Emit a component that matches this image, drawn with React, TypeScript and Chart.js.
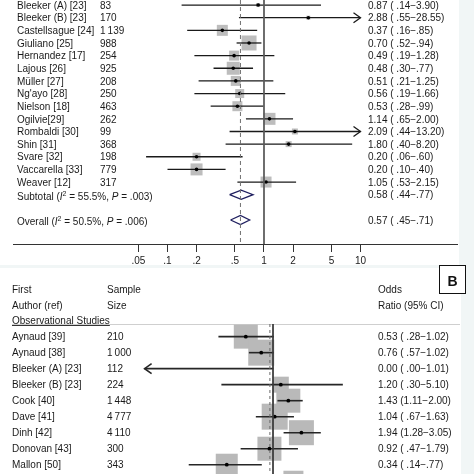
import React, { useEffect, useRef } from "react";
import { Chart, registerables } from "chart.js";
Chart.register(...registerables);

const FAMILY = '"Liberation Sans", Arial, Helvetica, sans-serif';
const F = `10px ${FAMILY}`;
const FI = `italic 10px ${FAMILY}`;
const FS = `7px ${FAMILY}`;
const TXT = "#1a1a1a";

// ---------------- Panel A ----------------
const aStudies = [
  "Bleeker (A) [23]", "Bleeker (B) [23]", "Castellsague [24]", "Giuliano [25]",
  "Hernandez [17]", "Lajous [26]", "Müller [27]", "Ng'ayo [28]", "Nielson [18]",
  "Ogilvie[29]", "Rombaldi [30]", "Shin [31]", "Svare [32]", "Vaccarella [33]", "Weaver [12]",
];
const aSizes = ["83", "170", "1\u2009139", "988", "254", "925", "208", "250", "463", "262", "99", "368", "198", "779", "317"];
const aOR = [0.87, 2.88, 0.37, 0.70, 0.49, 0.48, 0.51, 0.56, 0.53, 1.14, 2.09, 1.80, 0.20, 0.20, 1.05];
const aLow = [0.14, 0.55, 0.16, 0.52, 0.19, 0.30, 0.21, 0.19, 0.28, 0.65, 0.44, 0.40, 0.06, 0.10, 0.53];
const aHigh = [3.90, 28.55, 0.85, 0.94, 1.28, 0.77, 1.25, 1.66, 0.99, 2.00, 13.20, 8.20, 0.60, 0.40, 2.15];
const aWeight = [1.6, 1.6, 12.1, 22.5, 10, 16.9, 10, 8.1, 10, 14.4, 3.6, 3.6, 6.4, 14.4, 12.1];
const aPooledLabel = ["Subtotal", "Overall"];
const aPooledI2 = ["55.5%", "50.5%"];
const aPooledP = [".003", ".006"];
const aPooledOR = [0.58, 0.57];
const aPooledLow = [0.44, 0.45];
const aPooledHigh = [0.77, 0.71];
const aPooledRow = [15, 17];
const aTicks = [0.05, 0.1, 0.2, 0.5, 1, 2, 5, 10];
const aTickLabels = [".05", ".1", ".2", ".5", "1", "2", "5", "10"];
const aClipHigh = 10;

// ---------------- Panel B ----------------
const bHead1 = ["First", "Sample", "Odds"];
const bHead2 = ["Author (ref)", "Size", "Ratio (95% CI)"];
const bGroup = "Observational Studies";
const bStudies = [
  "Aynaud [39]", "Aynaud [38]", "Bleeker (A) [23]", "Bleeker (B) [23]", "Cook [40]",
  "Dave [41]", "Dinh [42]", "Donovan [43]", "Mallon [50]",
];
const bSizes = ["210", "1\u2009000", "112", "224", "1\u2009448", "4\u2009777", "4\u2009110", "300", "343"];
const bOR = [0.53, 0.76, 0.0, 1.20, 1.43, 1.04, 1.94, 0.92, 0.34];
const bLow = [0.28, 0.57, 0.0, 0.30, 1.11, 0.67, 1.28, 0.47, 0.14];
const bHigh = [1.02, 1.02, 1.01, 5.10, 2.00, 1.63, 3.05, 1.79, 0.77];
const bWeight = [57.6, 67.6, 0, 25.6, 57.6, 67.6, 62.5, 57.6, 48.4];
// next study row, cut off by the bottom edge (only the top of its square shows)
const bCutOR = [1.61];
const bCutWeight = [40];
const bOverallOR = 0.93;
const bClipLow = 0.05;
const bClipHigh = 10;

const side = (w: number) => Math.sqrt(w * 10);
const rectRadius = (w: number) => side(w) / Math.SQRT2;

function fmtCI(or: number, lo: number, hi: number) {
  const l = lo < 1 ? " " + lo.toFixed(2).slice(1) : lo.toFixed(2);
  const h = hi < 1 ? hi.toFixed(2).slice(1) : hi.toFixed(2);
  return `${or.toFixed(2)} (${l}\u2212${h})`;
}

function drawStat(ctx: CanvasRenderingContext2D, label: string, i2: string, p: string, x: number, y: number) {
  const parts: [string, string, number][] = [
    [`${label} (`, F, 0], ["I", FI, 0], ["2", FS, -4], [` = ${i2}, `, F, 0], ["P", FI, 0], [` = ${p})`, F, 0],
  ];
  let cx = x;
  for (const [t, f, dy] of parts) {
    ctx.font = f;
    ctx.fillText(t, cx, y + dy);
    cx += ctx.measureText(t).width;
  }
}

function chevron(ctx: CanvasRenderingContext2D, x: number, y: number, dir: number) {
  ctx.beginPath();
  ctx.moveTo(x - dir * 7, y - 5);
  ctx.lineTo(x, y);
  ctx.lineTo(x - dir * 7, y + 5);
  ctx.stroke();
}

const line = (data: any[], color: string, width: number, extra: any = {}) => ({
  type: "scatter",
  showLine: true,
  data,
  borderColor: color,
  borderWidth: width,
  pointRadius: 0,
  pointHoverRadius: 0,
  ...extra,
});

function makeChartA(canvas: HTMLCanvasElement) {
  const yMin = -0.4, yMax = 18.9;
  const datasets: any[] = [];
  datasets.push(line([{ x: 1, y: yMin }, { x: 1, y: yMax }], "#5a5a5a", 1, { order: 0 }));
  datasets.push(line([{ x: aPooledOR[1], y: yMin }, { x: aPooledOR[1], y: yMax }], "#707070", 1, { order: 0, borderDash: [4, 3] }));
  datasets.push({
    type: "scatter",
    data: aOR.map((v, i) => ({ x: v, y: i })),
    pointStyle: "rect",
    pointRadius: aWeight.map(rectRadius),
    backgroundColor: "#bdbdbd",
    borderWidth: 0,
    order: 3,
  });
  aStudies.forEach((_, i) => {
    datasets.push(line([{ x: aLow[i], y: i }, { x: Math.min(aHigh[i], aClipHigh), y: i }], "#1a1a1a", 1.3, { order: 1 }));
  });
  aPooledOR.forEach((v, k) => {
    const r = aPooledRow[k];
    datasets.push(
      line(
        [
          { x: aPooledLow[k], y: r },
          { x: v, y: r - 0.36 },
          { x: aPooledHigh[k], y: r },
          { x: v, y: r + 0.36 },
          { x: aPooledLow[k], y: r },
        ],
        "#1f1f5f",
        1.3,
        { order: 1 }
      )
    );
  });
  datasets.push({
    type: "scatter",
    data: aOR.map((v, i) => ({ x: v, y: i })),
    pointStyle: "circle",
    pointRadius: 1.8,
    backgroundColor: "#000",
    borderWidth: 0,
    order: 0,
  });

  const textPlugin = {
    id: "textA",
    afterDatasetsDraw(chart: any) {
      const ctx: CanvasRenderingContext2D = chart.ctx;
      const ys = chart.scales.y, xs = chart.scales.x;
      ctx.save();
      ctx.strokeStyle = "#1a1a1a";
      ctx.lineWidth = 1.3;
      aStudies.forEach((_, i) => {
        if (aHigh[i] > aClipHigh) chevron(ctx, xs.getPixelForValue(aClipHigh), ys.getPixelForValue(i), 1);
      });
      ctx.fillStyle = TXT;
      ctx.textBaseline = "alphabetic";
      ctx.font = F;
      aStudies.forEach((name, i) => {
        const py = ys.getPixelForValue(i) + 3.7;
        ctx.font = F;
        ctx.fillText(name, 17, py);
        ctx.fillText(aSizes[i], 100, py);
        ctx.fillText(fmtCI(aOR[i], aLow[i], aHigh[i]), 368, py);
      });
      aPooledLabel.forEach((lab, k) => {
        const py = ys.getPixelForValue(aPooledRow[k]) + 3.7;
        drawStat(ctx, lab, aPooledI2[k], aPooledP[k], 17, py + 1.5);
        ctx.font = F;
        ctx.fillText(fmtCI(aPooledOR[k], aPooledLow[k], aPooledHigh[k]), 368, py);
      });
      ctx.restore();
    },
  };

  return new Chart(canvas, {
    type: "scatter",
    data: { datasets },
    plugins: [textPlugin],
    options: {
      animation: false,
      responsive: false,
      devicePixelRatio: 1,
      events: [],
      layout: { autoPadding: false, padding: { left: 13, right: 17, top: 0, bottom: 200 } },
      plugins: { legend: { display: false }, tooltip: { enabled: false } },
      scales: {
        x: {
          type: "logarithmic",
          min: Math.pow(10, -2.601),
          max: 100,
          afterBuildTicks: (s: any) => {
            s.ticks = aTicks.map((v) => ({ value: v }));
          },
          afterFit: (s: any) => {
            s.height = 30;
          },
          grid: { drawOnChartArea: false, drawTicks: true, tickLength: 8, color: "#333", lineWidth: 1 },
          border: { display: true, color: "#333", width: 1 },
          ticks: {
            autoSkip: false,
            maxRotation: 0,
            padding: 3,
            color: TXT,
            font: { family: FAMILY, size: 10 },
            callback: (_v: any, idx: number) => aTickLabels[idx],
          },
        },
        y: { type: "linear", display: false, reverse: true, min: yMin, max: yMax },
      },
    } as any,
  } as any);
}

function makeChartB(canvas: HTMLCanvasElement) {
  const yMin = -0.79, yMax = 8.58;
  const datasets: any[] = [];
  datasets.push(line([{ x: 1, y: yMin }, { x: 1, y: yMax + 1 }], "#3a3a3a", 1, { order: 0 }));
  datasets.push(line([{ x: bOverallOR, y: yMin }, { x: bOverallOR, y: yMax + 1 }], "#6a6a6a", 1, { order: 0, borderDash: [3, 3] }));
  const sq: any[] = [];
  const sqR: number[] = [];
  bOR.forEach((v, i) => {
    if (v > 0 && bWeight[i] > 0) {
      sq.push({ x: v, y: i });
      sqR.push(rectRadius(bWeight[i]));
    }
  });
  bCutOR.forEach((v, k) => {
    sq.push({ x: v, y: bStudies.length + k });
    sqR.push(rectRadius(bCutWeight[k]));
  });
  datasets.push({
    type: "scatter",
    data: sq,
    pointStyle: "rect",
    pointRadius: sqR,
    backgroundColor: "#b9b9b9",
    borderWidth: 0,
    order: 3,
    clip: false,
  });
  bStudies.forEach((_, i) => {
    datasets.push(
      line([{ x: Math.max(bLow[i], bClipLow), y: i }, { x: Math.min(bHigh[i], bClipHigh), y: i }], "#262626", 1.6, { order: 1 })
    );
  });
  datasets.push({
    type: "scatter",
    data: bOR.map((v, i) => ({ x: v, y: i })).filter((p) => p.x > 0),
    pointStyle: "circle",
    pointRadius: 1.9,
    backgroundColor: "#000",
    borderWidth: 0,
    order: 0,
  });

  const textPlugin = {
    id: "textB",
    beforeDatasetsDraw(chart: any) {
      const ctx: CanvasRenderingContext2D = chart.ctx;
      const a = chart.chartArea;
      ctx.save();
      ctx.strokeStyle = "#cfcfcf";
      ctx.lineWidth = 1;
      ctx.beginPath();
      ctx.moveTo(a.left, a.top + 0.5);
      ctx.lineTo(a.right, a.top + 0.5);
      ctx.stroke();
      ctx.restore();
    },
    afterDatasetsDraw(chart: any) {
      const ctx: CanvasRenderingContext2D = chart.ctx;
      const ys = chart.scales.y, xs = chart.scales.x;
      ctx.save();
      ctx.strokeStyle = "#262626";
      ctx.lineWidth = 1.6;
      bStudies.forEach((_, i) => {
        if (bLow[i] < bClipLow) chevron(ctx, xs.getPixelForValue(bClipLow), ys.getPixelForValue(i), -1);
        if (bHigh[i] > bClipHigh) chevron(ctx, xs.getPixelForValue(bClipHigh), ys.getPixelForValue(i), 1);
      });
      ctx.fillStyle = TXT;
      ctx.font = F;
      ctx.textBaseline = "alphabetic";
      const cols = [12, 107, 378];
      bHead1.forEach((t, c) => ctx.fillText(t, cols[c], ys.getPixelForValue(-2.98) + 3.7));
      bHead2.forEach((t, c) => ctx.fillText(t, cols[c], ys.getPixelForValue(-1.98) + 3.7));
      const gy = ys.getPixelForValue(-1.05) + 3.7;
      ctx.fillText(bGroup, 12, gy);
      const gw = ctx.measureText(bGroup).width;
      ctx.strokeStyle = "#333";
      ctx.lineWidth = 1;
      ctx.beginPath();
      ctx.moveTo(12, Math.round(gy) + 1.5);
      ctx.lineTo(12 + gw, Math.round(gy) + 1.5);
      ctx.stroke();
      bStudies.forEach((name, i) => {
        const py = ys.getPixelForValue(i) + 3.7;
        ctx.fillText(name, cols[0], py);
        ctx.fillText(bSizes[i], cols[1], py);
        ctx.fillText(fmtCI(bOR[i], bLow[i], bHigh[i]), cols[2], py);
      });
      // panel letter
      ctx.fillStyle = "#fff";
      ctx.fillRect(439.5, 265.5, 26, 28);
      ctx.strokeStyle = "#111";
      ctx.lineWidth = 1;
      ctx.strokeRect(439.5, 265.5, 26, 28);
      ctx.fillStyle = "#111";
      ctx.font = `bold 14px ${FAMILY}`;
      ctx.textAlign = "center";
      ctx.fillText("B", 452.5, 286);
      ctx.restore();
    },
  };

  return new Chart(canvas, {
    type: "scatter",
    data: { datasets },
    plugins: [textPlugin],
    options: {
      animation: false,
      responsive: false,
      devicePixelRatio: 1,
      events: [],
      layout: { autoPadding: false, padding: { left: 12, right: 14, top: 324, bottom: 0 } },
      plugins: { legend: { display: false }, tooltip: { enabled: false } },
      scales: {
        x: { type: "logarithmic", display: false, min: Math.pow(10, -2.6444), max: Math.pow(10, 1.8946) },
        y: { type: "linear", display: false, reverse: true, min: yMin, max: yMax },
      },
    } as any,
  } as any);
}

export default function App() {
  const refA = useRef<HTMLCanvasElement>(null);
  const refB = useRef<HTMLCanvasElement>(null);
  useEffect(() => {
    const ca = makeChartA(refA.current!);
    const cb = makeChartB(refB.current!);
    return () => {
      ca.destroy();
      cb.destroy();
    };
  }, []);
  const abs: React.CSSProperties = { position: "absolute", left: 0, top: 0, width: 474, height: 474 };
  return (
    <div style={{ position: "fixed", left: 0, top: 0, width: 474, height: 474, background: "#f1f6f6", overflow: "hidden" }}>
      <div style={{ position: "absolute", left: 0, top: 0, width: 459, height: 265, background: "#fff" }} />
      <div style={{ position: "absolute", left: 0, top: 268, width: 461, height: 206, background: "#fff" }} />
      <canvas ref={refA} width={474} height={474} style={abs} />
      <canvas ref={refB} width={474} height={474} style={abs} />
    </div>
  );
}
